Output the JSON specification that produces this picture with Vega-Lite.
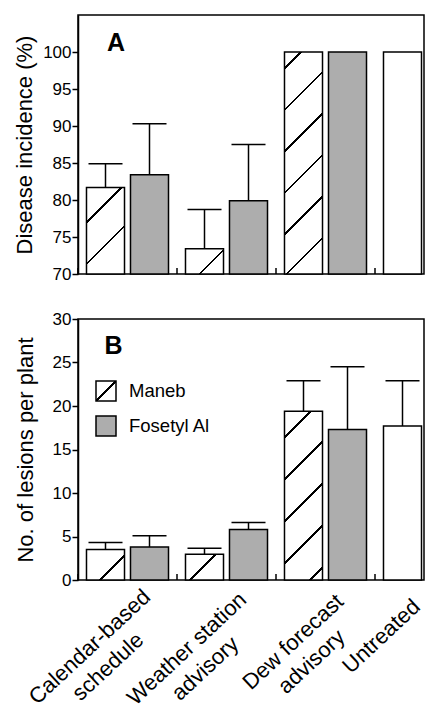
{
  "$schema": "https://vega.github.io/schema/vega-lite/v6.json",
  "padding": {"left": 12, "top": 14, "right": 3, "bottom": 0},
  "background": "white",
  "config": {
    "font": "Liberation Sans",
    "view": {"stroke": "black", "strokeWidth": 1.5},
    "axis": {"domainColor": "black", "domainWidth": 1.5, "tickColor": "black", "tickWidth": 1.5, "labelColor": "black", "titleColor": "black", "grid": false, "titleFontWeight": "normal"},
    "legend": {"labelColor": "black"}
  },
  "spacing": 26,
  "resolve": {"scale": {"x": "independent", "y": "independent", "fill": "independent", "xOffset": "independent"}},
  "datasets": {
    "incidence": [
      {"scheme": "Calendar-based schedule", "treatment": "Maneb", "mean": 81.7, "upper": 84.9},
      {"scheme": "Calendar-based schedule", "treatment": "Fosetyl Al", "mean": 83.4, "upper": 90.3},
      {"scheme": "Weather station advisory", "treatment": "Maneb", "mean": 73.4, "upper": 78.7},
      {"scheme": "Weather station advisory", "treatment": "Fosetyl Al", "mean": 79.9, "upper": 87.5},
      {"scheme": "Dew forecast advisory", "treatment": "Maneb", "mean": 100, "upper": null},
      {"scheme": "Dew forecast advisory", "treatment": "Fosetyl Al", "mean": 100, "upper": null},
      {"scheme": "Untreated", "treatment": "None", "mean": 100, "upper": null}
    ],
    "lesions": [
      {"scheme": "Calendar-based schedule", "treatment": "Maneb", "mean": 3.5, "upper": 4.3},
      {"scheme": "Calendar-based schedule", "treatment": "Fosetyl Al", "mean": 3.8, "upper": 5.1},
      {"scheme": "Weather station advisory", "treatment": "Maneb", "mean": 2.95, "upper": 3.65},
      {"scheme": "Weather station advisory", "treatment": "Fosetyl Al", "mean": 5.8, "upper": 6.6},
      {"scheme": "Dew forecast advisory", "treatment": "Maneb", "mean": 19.4, "upper": 22.9},
      {"scheme": "Dew forecast advisory", "treatment": "Fosetyl Al", "mean": 17.3, "upper": 24.5},
      {"scheme": "Untreated", "treatment": "None", "mean": 17.7, "upper": 22.9}
    ]
  },
  "vconcat": [
    {
      "width": 346,
      "height": 259,
      "data": {"name": "incidence"},
      "encoding": {
        "x": {"field": "scheme", "type": "nominal", "sort": null,
              "scale": {"domain": ["Calendar-based schedule", "Weather station advisory", "Dew forecast advisory", "Untreated"], "range": [0, 396], "paddingInner": 0, "paddingOuter": 0},
              "axis": null}
      },
      "layer": [
        {
          "transform": [{"calculate": "datum.treatment === 'Fosetyl Al' ? 'right' : 'left'", "as": "slot"}],
          "mark": {"type": "bar", "stroke": "black", "strokeWidth": 1.5},
          "encoding": {
            "xOffset": {"field": "slot", "type": "nominal", "scale": {"domain": ["left", "right"], "paddingInner": 0.136, "paddingOuter": 0.193}},
            "y": {"field": "mean", "type": "quantitative", "scale": {"domain": [70, 105], "nice": false, "zero": false},
                  "axis": {"title": "Disease incidence (%)", "values": [70, 75, 80, 85, 90, 95, 100], "tickSize": 6, "labelFontSize": 17, "labelPadding": 1, "titleFontSize": 22, "titlePadding": 6}},
            "y2": {"datum": 70},
            "fill": {
              "field": "treatment", "type": "nominal",
              "scale": {"domain": ["Maneb", "Fosetyl Al", "None"], "range": ["white", "#adadad", "white"]},
              "legend": null,
              "condition": [
                {"test": "datum.treatment === 'Maneb' && datum.scheme === 'Calendar-based schedule'",
                 "value": {"gradient": "linear", "x1": 0, "y1": 0, "x2": 0.5294, "y2": 1.2065, "stops": [
                   {"offset": 0, "color": "white"}, {"offset": 0.2705, "color": "white"}, {"offset": 0.2705, "color": "black"}, {"offset": 0.2913, "color": "black"}, {"offset": 0.2913, "color": "white"},
                   {"offset": 0.6044, "color": "white"}, {"offset": 0.6044, "color": "black"}, {"offset": 0.6252, "color": "black"}, {"offset": 0.6252, "color": "white"}, {"offset": 1, "color": "white"}]}},
                {"test": "datum.treatment === 'Maneb' && datum.scheme === 'Weather station advisory'",
                 "value": {"gradient": "linear", "x1": 0, "y1": 0, "x2": 1.1556, "y2": 0.7651, "stops": [
                   {"offset": 0, "color": "white"}, {"offset": 0.5969, "color": "white"}, {"offset": 0.5969, "color": "black"}, {"offset": 0.6381, "color": "black"}, {"offset": 0.6381, "color": "white"}, {"offset": 1, "color": "white"}]}},
                {"test": "datum.treatment === 'Maneb' && datum.scheme === 'Dew forecast advisory'",
                 "value": {"gradient": "linear", "x1": 0, "y1": 0, "x2": 0.19476, "y2": 1.13784, "stops": [
                   {"offset": 0, "color": "white"},
                   {"offset": 0.0589, "color": "white"}, {"offset": 0.0589, "color": "black"}, {"offset": 0.0689, "color": "black"}, {"offset": 0.0689, "color": "white"},
                   {"offset": 0.2185, "color": "white"}, {"offset": 0.2185, "color": "black"}, {"offset": 0.2285, "color": "black"}, {"offset": 0.2285, "color": "white"},
                   {"offset": 0.3781, "color": "white"}, {"offset": 0.3781, "color": "black"}, {"offset": 0.3881, "color": "black"}, {"offset": 0.3881, "color": "white"},
                   {"offset": 0.5377, "color": "white"}, {"offset": 0.5377, "color": "black"}, {"offset": 0.5477, "color": "black"}, {"offset": 0.5477, "color": "white"},
                   {"offset": 0.6973, "color": "white"}, {"offset": 0.6973, "color": "black"}, {"offset": 0.7073, "color": "black"}, {"offset": 0.7073, "color": "white"},
                   {"offset": 0.8569, "color": "white"}, {"offset": 0.8569, "color": "black"}, {"offset": 0.8669, "color": "black"}, {"offset": 0.8669, "color": "white"},
                   {"offset": 1, "color": "white"}]}}
              ]
            }
          }
        },
        {
          "transform": [{"filter": "datum.upper != null"}, {"calculate": "datum.treatment === 'Fosetyl Al' ? 'right' : 'left'", "as": "slot"}],
          "mark": {"type": "rule", "color": "black", "strokeWidth": 1.5},
          "encoding": {
            "xOffset": {"field": "slot", "type": "nominal", "scale": {"domain": ["left", "right"], "paddingInner": 0.136, "paddingOuter": 0.193}},
            "y": {"field": "mean", "type": "quantitative", "axis": {"title": "Disease incidence (%)"}},
            "y2": {"field": "upper"}
          }
        },
        {
          "transform": [{"filter": "datum.upper != null"}, {"calculate": "datum.treatment === 'Fosetyl Al' ? 'right' : 'left'", "as": "slot"}],
          "mark": {"type": "tick", "color": "black", "thickness": 1.5, "size": 34, "opacity": 1},
          "encoding": {
            "xOffset": {"field": "slot", "type": "nominal", "scale": {"domain": ["left", "right"], "paddingInner": 0.136, "paddingOuter": 0.193}},
            "y": {"field": "upper", "type": "quantitative", "axis": {"title": "Disease incidence (%)"}}
          }
        },
        {
          "transform": [{"filter": "datum.treatment !== 'Fosetyl Al'"}],
          "mark": {"type": "rule", "color": "black", "strokeWidth": 1.5},
          "encoding": {
            "x": {"field": "scheme", "type": "nominal", "bandPosition": 0},
            "y": {"datum": 70},
            "y2": {"datum": 70.8}
          }
        },
        {
          "data": {"values": [{"panel": "A"}]},
          "mark": {"type": "text", "align": "left", "baseline": "alphabetic", "fontSize": 25, "fontWeight": "bold", "dx": -20.5, "color": "black"},
          "encoding": {
            "x": {"datum": "Calendar-based schedule"},
            "y": {"datum": 100.2},
            "text": {"field": "panel"}
          }
        }
      ]
    },
    {
      "width": 346,
      "height": 261,
      "data": {"name": "lesions"},
      "encoding": {
        "x": {"field": "scheme", "type": "nominal", "sort": null,
              "scale": {"domain": ["Calendar-based schedule", "Weather station advisory", "Dew forecast advisory", "Untreated"], "range": [0, 396], "paddingInner": 0, "paddingOuter": 0},
              "axis": {"title": null, "domain": false, "ticks": false, "labelAngle": -43, "labelAlign": "center", "labelBaseline": "top", "labelFontSize": 22, "labelLineHeight": 27, "labelOverlap": false, "labelBound": false, "labelLimit": 0,
                       "labelOffset": {"condition": [
                         {"test": "datum.value === 'Calendar-based schedule'", "value": -44.7},
                         {"test": "datum.value === 'Weather station advisory'", "value": -46.5},
                         {"test": "datum.value === 'Dew forecast advisory'", "value": -39.2}], "value": -50},
                       "labelPadding": {"condition": [
                         {"test": "datum.value === 'Calendar-based schedule'", "value": 59.1},
                         {"test": "datum.value === 'Weather station advisory'", "value": 60.9},
                         {"test": "datum.value === 'Dew forecast advisory'", "value": 54.1}], "value": 48.5},
                       "labelExpr": "indexof(datum.value, ' ') < 0 ? datum.value : [slice(datum.value, 0, lastindexof(datum.value, ' ')), slice(datum.value, lastindexof(datum.value, ' ') + 1)]"}}
      },
      "layer": [
        {
          "transform": [{"calculate": "datum.treatment === 'Fosetyl Al' ? 'right' : 'left'", "as": "slot"}],
          "mark": {"type": "bar", "stroke": "black", "strokeWidth": 1.5},
          "encoding": {
            "xOffset": {"field": "slot", "type": "nominal", "scale": {"domain": ["left", "right"], "paddingInner": 0.136, "paddingOuter": 0.193}},
            "y": {"field": "mean", "type": "quantitative", "scale": {"domain": [0, 30], "nice": false},
                  "axis": {"title": "No. of lesions per plant", "values": [0, 5, 10, 15, 20, 25, 30], "tickSize": 6, "labelFontSize": 17, "labelPadding": 1, "titleFontSize": 22, "titlePadding": 15}},
            "y2": {"datum": 0},
            "fill": {
              "field": "treatment", "type": "nominal",
              "scale": {"domain": ["Maneb", "Fosetyl Al", "None"], "range": [
                {"expr": "{gradient: 'linear', x1: 0, y1: 0, x2: 1, y2: 1, stops: [{offset: 0, color: 'white'}, {offset: 0.465, color: 'white'}, {offset: 0.465, color: 'black'}, {offset: 0.535, color: 'black'}, {offset: 0.535, color: 'white'}, {offset: 1, color: 'white'}]}"},
                "#adadad", "white"]},
              "legend": {"values": ["Maneb", "Fosetyl Al"], "title": null, "orient": "none", "legendX": 17, "legendY": 61, "symbolType": "square", "symbolSize": 400, "symbolStrokeColor": "black", "symbolStrokeWidth": 1.5, "symbolOpacity": 1, "labelFontSize": 18.5, "labelOffset": 12, "rowPadding": 9},
              "condition": [
                {"test": "datum.treatment === 'Maneb' && datum.scheme === 'Calendar-based schedule'",
                 "value": {"gradient": "linear", "x1": 0, "y1": 0, "x2": 1.097, "y2": 0.879, "stops": [
                   {"offset": 0, "color": "white"}, {"offset": 0.6238, "color": "white"}, {"offset": 0.6238, "color": "black"}, {"offset": 0.6618, "color": "black"}, {"offset": 0.6618, "color": "white"}, {"offset": 1, "color": "white"}]}},
                {"test": "datum.treatment === 'Maneb' && datum.scheme === 'Weather station advisory'",
                 "value": {"gradient": "linear", "x1": 0, "y1": 0, "x2": 1.1505, "y2": 0.7772, "stops": [
                   {"offset": 0, "color": "white"}, {"offset": 0.4508, "color": "white"}, {"offset": 0.4508, "color": "black"}, {"offset": 0.4916, "color": "black"}, {"offset": 0.4916, "color": "white"}, {"offset": 1, "color": "white"}]}},
                {"test": "datum.treatment === 'Maneb' && datum.scheme === 'Dew forecast advisory'",
                 "value": {"gradient": "linear", "x1": 0, "y1": 0, "x2": 0.26253, "y2": 1.16604, "stops": [
                   {"offset": 0, "color": "white"},
                   {"offset": 0.1195, "color": "white"}, {"offset": 0.1195, "color": "black"}, {"offset": 0.1320, "color": "black"}, {"offset": 0.1320, "color": "white"},
                   {"offset": 0.3226, "color": "white"}, {"offset": 0.3226, "color": "black"}, {"offset": 0.3351, "color": "black"}, {"offset": 0.3351, "color": "white"},
                   {"offset": 0.5257, "color": "white"}, {"offset": 0.5257, "color": "black"}, {"offset": 0.5383, "color": "black"}, {"offset": 0.5383, "color": "white"},
                   {"offset": 0.7288, "color": "white"}, {"offset": 0.7288, "color": "black"}, {"offset": 0.7414, "color": "black"}, {"offset": 0.7414, "color": "white"},
                   {"offset": 0.9319, "color": "white"}, {"offset": 0.9319, "color": "black"}, {"offset": 0.9445, "color": "black"}, {"offset": 0.9445, "color": "white"},
                   {"offset": 1, "color": "white"}]}},
                {"test": "datum.treatment === 'None'", "value": "white"}
              ]
            }
          }
        },
        {
          "transform": [{"filter": "datum.upper != null"}, {"calculate": "datum.treatment === 'Fosetyl Al' ? 'right' : 'left'", "as": "slot"}],
          "mark": {"type": "rule", "color": "black", "strokeWidth": 1.5},
          "encoding": {
            "xOffset": {"field": "slot", "type": "nominal", "scale": {"domain": ["left", "right"], "paddingInner": 0.136, "paddingOuter": 0.193}},
            "y": {"field": "mean", "type": "quantitative", "axis": {"title": "No. of lesions per plant"}},
            "y2": {"field": "upper"}
          }
        },
        {
          "transform": [{"filter": "datum.upper != null"}, {"calculate": "datum.treatment === 'Fosetyl Al' ? 'right' : 'left'", "as": "slot"}],
          "mark": {"type": "tick", "color": "black", "thickness": 1.5, "size": 34, "opacity": 1},
          "encoding": {
            "xOffset": {"field": "slot", "type": "nominal", "scale": {"domain": ["left", "right"], "paddingInner": 0.136, "paddingOuter": 0.193}},
            "y": {"field": "upper", "type": "quantitative", "axis": {"title": "No. of lesions per plant"}}
          }
        },
        {
          "transform": [{"filter": "datum.treatment !== 'Fosetyl Al'"}],
          "mark": {"type": "rule", "color": "black", "strokeWidth": 1.5},
          "encoding": {
            "x": {"field": "scheme", "type": "nominal", "bandPosition": 0},
            "y": {"datum": 0},
            "y2": {"datum": 0.7}
          }
        },
        {
          "data": {"values": [{"panel": "B"}]},
          "mark": {"type": "text", "align": "left", "baseline": "alphabetic", "fontSize": 25, "fontWeight": "bold", "dx": -23, "color": "black"},
          "encoding": {
            "x": {"datum": "Calendar-based schedule"},
            "y": {"datum": 26},
            "text": {"field": "panel"}
          }
        }
      ]
    }
  ]
}
